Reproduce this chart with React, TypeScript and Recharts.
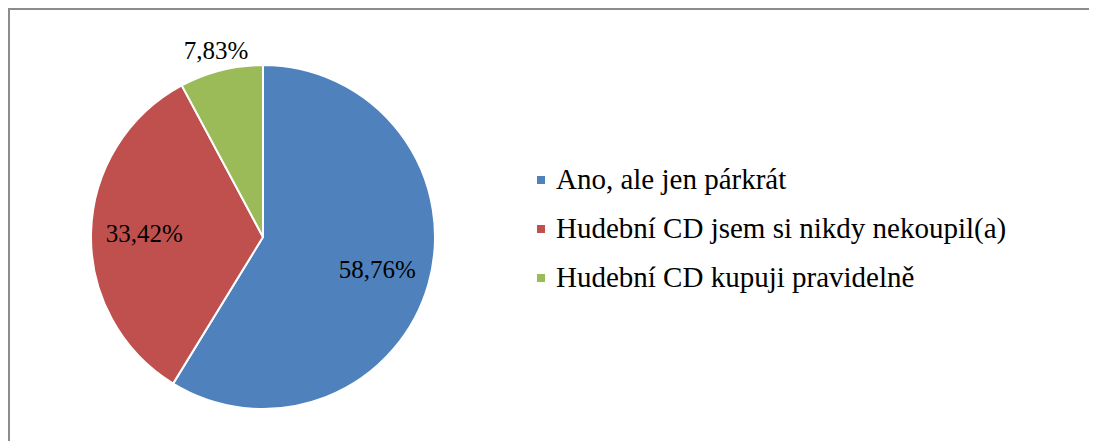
import { PieChart, Pie, Cell, Legend } from "recharts";

const categories = [
  "Ano, ale jen párkrát",
  "Hudební CD jsem si nikdy nekoupil(a)",
  "Hudební CD kupuji pravidelně",
];
const shares = [58.76, 33.42, 7.83];
const colors = ["#4F81BD", "#C0504D", "#9BBB59"];

const data = categories.map((name, i) => ({ name, value: shares[i] }));

const FONT = "'Liberation Serif', 'Times New Roman', serif";
const RAD = Math.PI / 180;

const fmt = (v: number) => `${v.toFixed(2).replace(".", ",")}%`;

function renderLabel({ cx, cy, midAngle, outerRadius, value, percent }: any) {
  // small slice label goes outside, the others inside
  const r = percent < 0.1 ? outerRadius * 1.12 : outerRadius * 0.69;
  const x = cx + r * Math.cos(-midAngle * RAD);
  const y = cy + r * Math.sin(-midAngle * RAD);
  return (
    <text
      x={x}
      y={y}
      fill="#000"
      textAnchor="middle"
      dominantBaseline="central"
      style={{ fontFamily: FONT, fontSize: 25 }}
    >
      {fmt(value)}
    </text>
  );
}

function LegendBox() {
  return (
    <div>
      {categories.map((c, i) => (
        <div
          key={c}
          style={{
            display: "flex",
            alignItems: "center",
            height: 49,
            fontSize: 29,
            color: "#000",
            whiteSpace: "nowrap",
            fontFamily: FONT,
          }}
        >
          <span
            style={{
              width: 8,
              height: 8,
              background: colors[i],
              marginRight: 11,
              display: "inline-block",
            }}
          />
          {c}
        </div>
      ))}
    </div>
  );
}

export default function App() {
  return (
    <div
      style={{
        width: 1089,
        height: 433,
        boxSizing: "border-box",
        borderTop: "2px solid #8c8c8c",
        borderLeft: "2px solid #8c8c8c",
        background: "#fff",
      }}
    >
      <PieChart
        width={1087}
        height={431}
        margin={{ top: 0, right: 0, bottom: 0, left: 0 }}
      >
        <Pie
          data={data}
          dataKey="value"
          nameKey="name"
          cx={253}
          cy={227}
          outerRadius={172}
          startAngle={90}
          endAngle={-270}
          stroke="#fff"
          strokeWidth={2}
          label={renderLabel}
          labelLine={false}
          isAnimationActive={false}
        >
          {data.map((d, i) => (
            <Cell key={d.name} fill={colors[i]} />
          ))}
        </Pie>
        <Legend
          content={<LegendBox />}
          wrapperStyle={{ position: "absolute", left: 527, top: 145, width: "auto" }}
        />
      </PieChart>
    </div>
  );
}
